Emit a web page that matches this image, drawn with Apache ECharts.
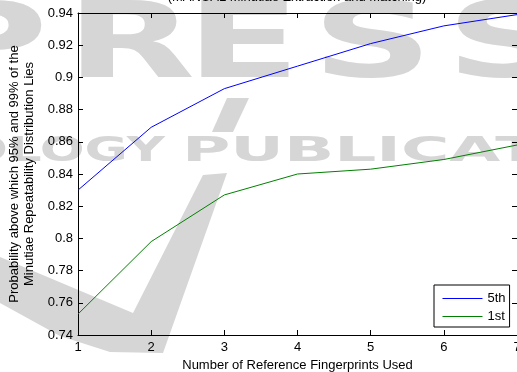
<!DOCTYPE html>
<html>
<head>
<meta charset="utf-8">
<script src="https://cdn.jsdelivr.net/npm/echarts@6/dist/echarts.min.js"></script>
<style>
  html, body { margin: 0; padding: 0; background: #fff; overflow: hidden; }
  #chart { width: 517px; height: 372px; }
</style>
</head>
<body>
<div id="chart"></div>
<script>
// Number of reference fingerprints (x) and the probability curves for each rank
var referenceCounts = [1, 2, 3, 4, 5, 6, 7];
var fifth = [0.830, 0.869, 0.893, 0.907, 0.921, 0.932, 0.939];
var first = [0.753, 0.798, 0.827, 0.840, 0.843, 0.849, 0.858];
var seriesNames = ['5th', '1st'];
var seriesColors = ['#0000ff', '#008000'];

var FONT = '"Liberation Sans", Arial, sans-serif';
var WM = '#d6d6d6';

function pairs(ys) {
  return referenceCounts.map(function (x, i) { return [x, ys[i]]; });
}

function fmt(v) { return String(+v.toFixed(2)); }

var axisLine = { show: true, lineStyle: { color: '#000', width: 1 } };
var tickIn = { show: true, inside: true, length: 5, lineStyle: { color: '#000', width: 1 } };
var labelStyle = { color: '#000', fontSize: 13, fontFamily: FONT };

// Publisher watermark behind the plot
function wmText(str, x, y, size, align, sx) {
  return {
    type: 'text', x: x, y: y, scaleX: sx, z: -10, silent: true,
    style: {
      text: str, x: 0, y: 0, fill: WM,
      font: 'bold ' + size + 'px "DejaVu Sans", sans-serif',
      textAlign: align, textVerticalAlign: 'middle'
    }
  };
}

var watermark = [
  wmText('P', -75, 50, 105, 'left', 1.6),
  wmText('R', 66, 50, 105, 'left', 1.6),
  wmText('E', 186, 50, 105, 'left', 1.6),
  wmText('S', 312, 50, 105, 'left', 1.6),
  wmText('S', 446, 50, 105, 'left', 1.6),
  wmText('TECHNOLOGY', 165, 152, 33, 'right', 1.6),
  wmText('PUBLICATIONS', 182, 152, 33, 'left', 2.0),
  {
    type: 'polygon', z: -10, silent: true,
    shape: { points: [[0, 257], [133, 313], [203, 175], [227, 173], [163, 353], [110, 352], [60, 336], [0, 303]] },
    style: { fill: WM }
  },
  {
    type: 'polygon', z: -10, silent: true,
    shape: { points: [[227, 98], [249, 98], [233, 132], [212, 132]] },
    style: { fill: WM }
  },
  {
    type: 'text', x: 297, y: 4, z: 10, silent: true,
    style: {
      text: '(MANUAL Minutiae Extraction and Matching)', fill: '#000',
      font: '13px ' + FONT, textAlign: 'center', textVerticalAlign: 'bottom'
    }
  }
];

var chart = echarts.init(document.getElementById('chart'), null, { renderer: 'canvas' });

chart.setOption({
  animation: false,
  backgroundColor: '#fff',
  grid: { left: 78, right: 0, top: 13, bottom: 37, containLabel: false, outerBoundsMode: 'none' },
  graphic: watermark,
  xAxis: [
    {
      type: 'value', position: 'bottom', min: 1, max: 7, interval: 1,
      axisLine: axisLine, axisTick: tickIn, splitLine: { show: false },
      axisLabel: Object.assign({ margin: 6 }, labelStyle),
      name: 'Number of Reference Fingerprints Used',
      nameLocation: 'middle', nameGap: 22,
      nameTextStyle: labelStyle
    },
    {
      type: 'value', position: 'top', min: 1, max: 7, interval: 1,
      axisLine: axisLine, axisTick: tickIn, splitLine: { show: false },
      axisLabel: { show: false }
    }
  ],
  yAxis: [
    {
      type: 'value', position: 'left', min: 0.74, max: 0.94, interval: 0.02,
      axisLine: axisLine, axisTick: tickIn, splitLine: { show: false },
      axisLabel: Object.assign({ margin: 5, formatter: fmt }, labelStyle),
      name: 'Probability above which 95% and 99% of the\nMinutiae Repeatability Distribution Lies',
      nameLocation: 'middle', nameGap: 32, nameRotate: 90,
      nameTextStyle: Object.assign({ lineHeight: 15, align: 'center' }, labelStyle)
    },
    {
      type: 'value', position: 'right', min: 0.74, max: 0.94, interval: 0.02,
      axisLine: axisLine, axisTick: tickIn, splitLine: { show: false },
      axisLabel: { show: false }
    }
  ],
  legend: {
    data: seriesNames,
    orient: 'vertical',
    left: 434, top: 285,
    backgroundColor: '#fff',
    borderColor: '#000', borderWidth: 1, borderRadius: 0,
    padding: [7, 4, 4, 8],
    itemWidth: 40, itemHeight: 14, itemGap: 5,
    itemStyle: { opacity: 0 },
    lineStyle: { width: 1 },
    textStyle: { color: '#000', fontSize: 13, fontFamily: FONT }
  },
  series: [
    {
      name: seriesNames[0], type: 'line', data: pairs(fifth),
      symbol: 'none', z: 3,
      lineStyle: { color: seriesColors[0], width: 1 },
      itemStyle: { color: seriesColors[0] }
    },
    {
      name: seriesNames[1], type: 'line', data: pairs(first),
      symbol: 'none', z: 3,
      lineStyle: { color: seriesColors[1], width: 1 },
      itemStyle: { color: seriesColors[1] }
    }
  ]
});
</script>
</body>
</html>
